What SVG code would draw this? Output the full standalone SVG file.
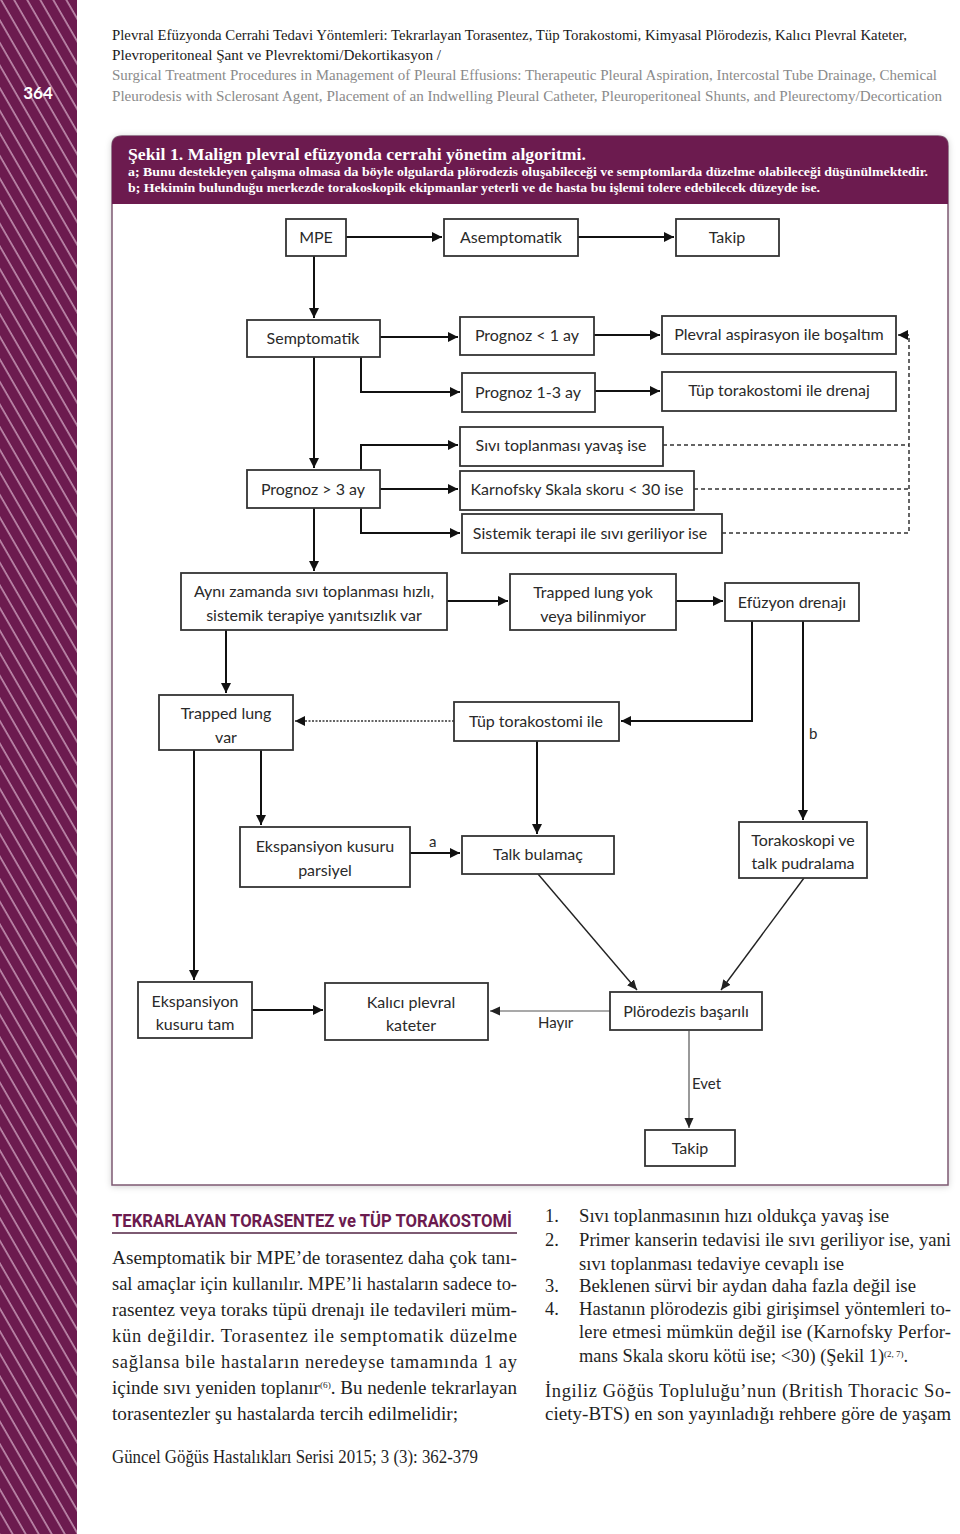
<svg xmlns="http://www.w3.org/2000/svg" width="960" height="1534" viewBox="0 0 960 1534">
<defs>
<pattern id="stripes" patternUnits="userSpaceOnUse" width="11.3" height="40" patternTransform="rotate(-30)">
<rect width="11.3" height="40" fill="#6c1b4f"/>
<line x1="1" y1="0" x2="1" y2="40" stroke="#e9c6dc" stroke-width="1.1"/>
</pattern>
<marker id="ah" markerUnits="userSpaceOnUse" markerWidth="12" markerHeight="10" refX="10" refY="5" orient="auto">
<path d="M0,0 L10,5 L0,10 z" fill="#111"/>
</marker>
<marker id="ahs" markerUnits="userSpaceOnUse" markerWidth="12" markerHeight="10" refX="10" refY="5" orient="auto">
<path d="M0,0.5 L10,5 L0,9.5 z" fill="#222"/>
</marker>
<filter id="sh" x="-5%" y="-5%" width="110%" height="110%">
<feDropShadow dx="0" dy="1" stdDeviation="3" flood-color="#000" flood-opacity="0.18"/>
</filter>
<style>
.hd{font-family:"Liberation Serif",serif;font-size:15px;fill:#1a1a1a}
.hg{font-family:"Liberation Serif",serif;font-size:14.5px;fill:#8a8a8a}
.cap{font-family:"Liberation Serif",serif;font-weight:bold;fill:#fff}
.box{fill:#fff;stroke:#333;stroke-width:1.8}
.bt{font-family:Lato,"Open Sans",sans-serif;font-size:16px;fill:#2a2a2a;text-anchor:middle}
.lb{font-family:Lato,"Open Sans",sans-serif;font-size:15px;fill:#2a2a2a}
.c{fill:none;stroke:#111;stroke-width:2}
.ct{fill:none;stroke:#222;stroke-width:1.4}
.cg{fill:none;stroke:#555;stroke-width:1.2}
.dash{fill:none;stroke:#333;stroke-width:1.5;stroke-dasharray:4 3}
.dot{fill:none;stroke:#333;stroke-width:1.6;stroke-dasharray:2 1.5}
.body{font-family:"Liberation Serif",serif;font-size:18.5px;fill:#1f1f1f}
.sup{font-size:9px}
</style>
</defs>
<rect x="0" y="0" width="960" height="1534" fill="#fff"/>
<rect x="0" y="0" width="77" height="1534" fill="url(#stripes)"/>
<text x="38" y="99" text-anchor="middle" font-family="Lato,sans-serif" font-weight="bold" font-size="17" fill="#fff">364</text>

<g id="header">
<text class="hd" x="112" y="40" textLength="795" lengthAdjust="spacingAndGlyphs">Plevral Efüzyonda Cerrahi Tedavi Yöntemleri: Tekrarlayan Torasentez, Tüp Torakostomi, Kimyasal Plörodezis, Kalıcı Plevral Kateter,</text>
<text class="hd" x="112" y="60" textLength="329" lengthAdjust="spacingAndGlyphs">Plevroperitoneal Şant ve Plevrektomi/Dekortikasyon /</text>
<text class="hg" x="112" y="80" textLength="825" lengthAdjust="spacingAndGlyphs">Surgical Treatment Procedures in Management of Pleural Effusions: Therapeutic Pleural Aspiration, Intercostal Tube Drainage, Chemical</text>
<text class="hg" x="112" y="101" textLength="830" lengthAdjust="spacingAndGlyphs">Pleurodesis with Sclerosant Agent, Placement of an Indwelling Pleural Catheter, Pleuroperitoneal Shunts, and Pleurectomy/Decortication</text>
</g>

<g id="panel">
<path d="M112,146 Q112,136 122,136 H938 Q948,136 948,146 V1185 H112 Z" fill="#fff" stroke="#7d5a72" stroke-width="1.5" filter="url(#sh)"/>
<path d="M112,146 Q112,136 122,136 H938 Q948,136 948,146 V204 H112 Z" fill="#6c1b4f"/>
<text class="cap" x="128" y="160" font-size="17" textLength="458" lengthAdjust="spacingAndGlyphs">Şekil 1. Malign plevral efüzyonda cerrahi yönetim algoritmi.</text>
<text class="cap" x="128" y="176" font-size="12" textLength="800" lengthAdjust="spacingAndGlyphs">a; Bunu destekleyen çalışma olmasa da böyle olgularda plörodezis oluşabileceği ve semptomlarda düzelme olabileceği düşünülmektedir.</text>
<text class="cap" x="128" y="192" font-size="12" textLength="692" lengthAdjust="spacingAndGlyphs">b; Hekimin bulunduğu merkezde torakoskopik ekipmanlar yeterli ve de hasta bu işlemi tolere edebilecek düzeyde ise.</text>
</g>

<g id="connectors">
<path class="c" d="M346,237 H442" marker-end="url(#ah)"/>
<path class="c" d="M578,237 H674" marker-end="url(#ah)"/>
<path class="c" d="M314,256 V318" marker-end="url(#ah)"/>
<path class="c" d="M380,337 H458" marker-end="url(#ah)"/>
<path class="c" d="M594,335 H660" marker-end="url(#ah)"/>
<path class="c" d="M361,357 V392 H460" marker-end="url(#ah)"/>
<path class="c" d="M595,391 H660" marker-end="url(#ah)"/>
<path class="c" d="M314,357 V468" marker-end="url(#ah)"/>
<path class="c" d="M361,470 V445 H458" marker-end="url(#ah)"/>
<path class="c" d="M380,489 H458" marker-end="url(#ah)"/>
<path class="c" d="M361,508 V533 H460" marker-end="url(#ah)"/>
<path class="c" d="M314,508 V571" marker-end="url(#ah)"/>
<path class="dash" d="M663,445 H909"/>
<path class="dash" d="M694,489 H909"/>
<path class="dash" d="M722,533 H909 V335 H898" marker-end="url(#ah)"/>
<path class="c" d="M447,601 H508" marker-end="url(#ah)"/>
<path class="c" d="M676,601 H723" marker-end="url(#ah)"/>
<path class="c" d="M226,630 V693" marker-end="url(#ah)"/>
<path class="c" d="M752,621 V721 H621" marker-end="url(#ah)"/>
<path class="c" d="M803,621 V820" marker-end="url(#ah)"/>
<path class="dot" d="M454,721 H295" marker-end="url(#ah)"/>
<path class="c" d="M537,741 V834" marker-end="url(#ah)"/>
<path class="c" d="M261,750 V825" marker-end="url(#ah)"/>
<path class="c" d="M194,750 V980" marker-end="url(#ah)"/>
<path class="c" d="M410,853 H460" marker-end="url(#ah)"/>
<path class="c" d="M252,1010 H323" marker-end="url(#ah)"/>
<path class="ct" d="M538,874 L637,990" marker-end="url(#ahs)"/>
<path class="ct" d="M804,878 L721,990" marker-end="url(#ahs)"/>
<path class="cg" d="M610,1011 H490" marker-end="url(#ahs)"/>
<path class="cg" d="M689,1031 V1128" marker-end="url(#ahs)"/>
<text class="lb" x="429" y="847">a</text>
<text class="lb" x="809" y="739">b</text>
<text class="lb" x="538" y="1028">Hayır</text>
<text class="lb" x="692" y="1089">Evet</text>
</g>

<g id="n-mpe"><rect class="box" x="286" y="219" width="60" height="37"/><text class="bt" x="316" y="243">MPE</text></g>
<g id="n-asemptomatik"><rect class="box" x="444" y="219" width="134" height="37"/><text class="bt" x="511" y="243">Asemptomatik</text></g>
<g id="n-takip1"><rect class="box" x="676" y="219" width="103" height="37"/><text class="bt" x="727" y="243">Takip</text></g>
<g id="n-semptomatik"><rect class="box" x="247" y="320" width="133" height="37"/><text class="bt" x="313" y="344">Semptomatik</text></g>
<g id="n-prognoz1"><rect class="box" x="460" y="317" width="134" height="38"/><text class="bt" x="527" y="341">Prognoz &lt; 1 ay</text></g>
<g id="n-plevral"><rect class="box" x="662" y="316" width="234" height="38"/><text class="bt" x="779" y="340">Plevral aspirasyon ile boşaltım</text></g>
<g id="n-prognoz13"><rect class="box" x="462" y="373" width="133" height="39"/><text class="bt" x="528" y="398">Prognoz 1-3 ay</text></g>
<g id="n-tup-drenaj"><rect class="box" x="662" y="372" width="234" height="39"/><text class="bt" x="779" y="396">Tüp torakostomi ile drenaj</text></g>
<g id="n-sivi-yavas"><rect class="box" x="460" y="427" width="203" height="39"/><text class="bt" x="561" y="451">Sıvı toplanması yavaş ise</text></g>
<g id="n-prognoz3"><rect class="box" x="247" y="470" width="133" height="38"/><text class="bt" x="313" y="495">Prognoz &gt; 3 ay</text></g>
<g id="n-karnofsky"><rect class="box" x="460" y="471" width="234" height="39"/><text class="bt" x="577" y="495">Karnofsky Skala skoru &lt; 30 ise</text></g>
<g id="n-sistemik"><rect class="box" x="462" y="514" width="260" height="39"/><text class="bt" x="590" y="539">Sistemik terapi ile sıvı geriliyor ise</text></g>
<g id="n-ayni"><rect class="box" x="181" y="573" width="266" height="57"/><text class="bt" x="314" y="597">Aynı zamanda sıvı toplanması hızlı,</text><text class="bt" x="314" y="621">sistemik terapiye yanıtsızlık var</text></g>
<g id="n-trapped-yok"><rect class="box" x="510" y="574" width="166" height="56"/><text class="bt" x="593" y="598">Trapped lung yok</text><text class="bt" x="593" y="622">veya bilinmiyor</text></g>
<g id="n-efuzyon"><rect class="box" x="725" y="583" width="134" height="38"/><text class="bt" x="792" y="608">Efüzyon drenajı</text></g>
<g id="n-trapped-var"><rect class="box" x="159" y="695" width="134" height="55"/><text class="bt" x="226" y="719">Trapped lung</text><text class="bt" x="226" y="743">var</text></g>
<g id="n-tup-ile"><rect class="box" x="454" y="702" width="165" height="39"/><text class="bt" x="536" y="727">Tüp torakostomi ile</text></g>
<g id="n-eksp-parsiyel"><rect class="box" x="240" y="827" width="170" height="60"/><text class="bt" x="325" y="852">Ekspansiyon kusuru</text><text class="bt" x="325" y="876">parsiyel</text></g>
<g id="n-talk"><rect class="box" x="462" y="836" width="152" height="38"/><text class="bt" x="538" y="860">Talk bulamaç</text></g>
<g id="n-torakoskopi"><rect class="box" x="739" y="822" width="128" height="56"/><text class="bt" x="803" y="846">Torakoskopi ve</text><text class="bt" x="803" y="869">talk pudralama</text></g>
<g id="n-eksp-tam"><rect class="box" x="138" y="982" width="114" height="56"/><text class="bt" x="195" y="1007">Ekspansiyon</text><text class="bt" x="195" y="1030">kusuru tam</text></g>
<g id="n-kalici"><rect class="box" x="325" y="983" width="163" height="57"/><text class="bt" x="411" y="1008">Kalıcı plevral</text><text class="bt" x="411" y="1031">kateter</text></g>
<g id="n-plorodezis"><rect class="box" x="610" y="992" width="152" height="38"/><text class="bt" x="686" y="1017">Plörodezis başarılı</text></g>
<g id="n-takip2"><rect class="box" x="645" y="1130" width="90" height="36"/><text class="bt" x="690" y="1154">Takip</text></g>

<g id="body">
<text x="112" y="1227" font-family="Roboto,'Liberation Sans',sans-serif" font-weight="bold" font-size="18" fill="#6c1b4f" textLength="400" lengthAdjust="spacingAndGlyphs">TEKRARLAYAN TORASENTEZ ve TÜP TORAKOSTOMİ</text>
<line x1="112" y1="1233" x2="517" y2="1233" stroke="#7d5a72" stroke-width="2"/>
<text class="body" x="112" y="1264" textLength="405" lengthAdjust="spacingAndGlyphs">Asemptomatik bir MPE’de torasentez daha çok tanı-</text>
<text class="body" x="112" y="1290" textLength="405" lengthAdjust="spacingAndGlyphs">sal amaçlar için kullanılır. MPE’li hastaların sadece to-</text>
<text class="body" x="112" y="1316" textLength="405" lengthAdjust="spacingAndGlyphs">rasentez veya toraks tüpü drenajı ile tedavileri müm-</text>
<text class="body" x="112" y="1342" textLength="405" lengthAdjust="spacing">kün değildir. Torasentez ile semptomatik düzelme</text>
<text class="body" x="112" y="1368" textLength="405" lengthAdjust="spacing">sağlansa bile hastaların neredeyse tamamında 1 ay</text>
<text class="body" x="112" y="1394" textLength="405" lengthAdjust="spacingAndGlyphs">içinde sıvı yeniden toplanır<tspan class="sup" dy="-6">(6)</tspan><tspan dy="6">. Bu nedenle tekrarlayan</tspan></text>
<text class="body" x="112" y="1420" textLength="346" lengthAdjust="spacingAndGlyphs">torasentezler şu hastalarda tercih edilmelidir;</text>
<text class="body" x="112" y="1463" textLength="366" lengthAdjust="spacingAndGlyphs">Güncel Göğüs Hastalıkları Serisi 2015; 3 (3): 362-379</text>

<text class="body" x="545" y="1222">1.</text>
<text class="body" x="579" y="1222" textLength="310" lengthAdjust="spacingAndGlyphs">Sıvı toplanmasının hızı oldukça yavaş ise</text>
<text class="body" x="545" y="1246">2.</text>
<text class="body" x="579" y="1246" textLength="372" lengthAdjust="spacingAndGlyphs">Primer kanserin tedavisi ile sıvı geriliyor ise, yani</text>
<text class="body" x="579" y="1270" textLength="265" lengthAdjust="spacingAndGlyphs">sıvı toplanması tedaviye cevaplı ise</text>
<text class="body" x="545" y="1292">3.</text>
<text class="body" x="579" y="1292" textLength="337" lengthAdjust="spacingAndGlyphs">Beklenen sürvi bir aydan daha fazla değil ise</text>
<text class="body" x="545" y="1315">4.</text>
<text class="body" x="579" y="1315" textLength="372" lengthAdjust="spacingAndGlyphs">Hastanın plörodezis gibi girişimsel yöntemleri to-</text>
<text class="body" x="579" y="1338" textLength="372" lengthAdjust="spacing">lere etmesi mümkün değil ise (Karnofsky Perfor-</text>
<text class="body" x="579" y="1362" textLength="329" lengthAdjust="spacingAndGlyphs">mans Skala skoru kötü ise; &lt;30) (Şekil 1)<tspan class="sup" dy="-5">(2, 7)</tspan><tspan dy="5">.</tspan></text>
<text class="body" x="545" y="1397" textLength="406" lengthAdjust="spacing">İngiliz Göğüs Topluluğu’nun (British Thoracic So-</text>
<text class="body" x="545" y="1420" textLength="406" lengthAdjust="spacingAndGlyphs">ciety-BTS) en son yayınladığı rehbere göre de yaşam</text>
</g>
</svg>
